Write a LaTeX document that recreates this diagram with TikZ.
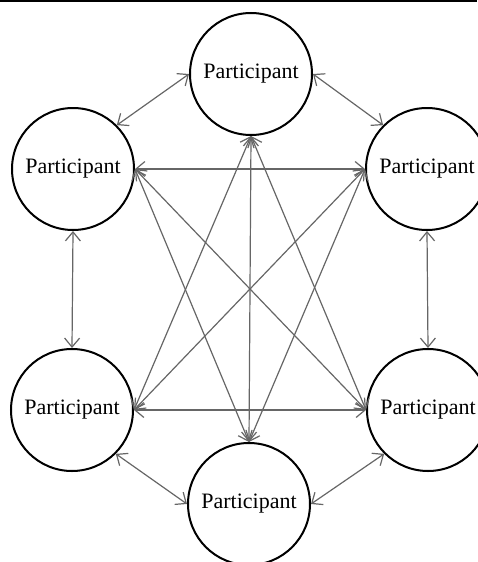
\documentclass[tikz,border=0pt]{standalone}
\usepackage{fontspec}
\setmainfont{Liberation Serif}
\usetikzlibrary{arrows.meta}
\begin{document}
\begin{tikzpicture}[x=1pt,y=-1pt,
  participant/.style={draw=black, line width=2pt, circle, minimum size=122pt,
    inner sep=0pt, font=\fontsize{22}{24}\selectfont, fill=white},
  link/.style={draw=black!60, line width=1.2pt,
    {Straight Barb[length=9pt,width=15pt,line width=1.2pt]}-{Straight Barb[length=9pt,width=15pt,line width=1.2pt]}}]
  \useasboundingbox (0,0) rectangle (477,562);
  % rule along the top edge
  \draw[line width=2pt] (0,1) -- (477,1);

  \node[participant] (T)  at (251,74)  {Participant};
  \node[participant] (UL) at (73,169)  {Participant};
  \node[participant] (UR) at (427,169) {Participant};
  \node[participant] (LL) at (72,410)  {Participant};
  \node[participant] (LR) at (428,410) {Participant};
  \node[participant] (B)  at (249,504) {Participant};

  % neighbouring participants
  \draw[link] (T.west) -- (UL.45);
  \draw[link] (T.east) -- (UR.135);
  \draw[link] (UL.south) -- (LL.north);
  \draw[link] (UR.south) -- (LR.north);
  \draw[link] (LL.-45) -- (B.west);
  \draw[link] (LR.-135) -- (B.east);

  % links across the ring
  \draw[link] (T.south) -- (B.north);
  \draw[link] (T.south) -- (LL.east);
  \draw[link] (T.south) -- (LR.west);
  \draw[link] (UL.east) -- (UR.west);
  \draw[link] (UL.east) -- (LR.west);
  \draw[link] (UL.east) -- (B.north);
  \draw[link] (UR.west) -- (LL.east);
  \draw[link] (UR.west) -- (B.north);
  \draw[link] (LL.east) -- (LR.west);
\end{tikzpicture}
\end{document}
